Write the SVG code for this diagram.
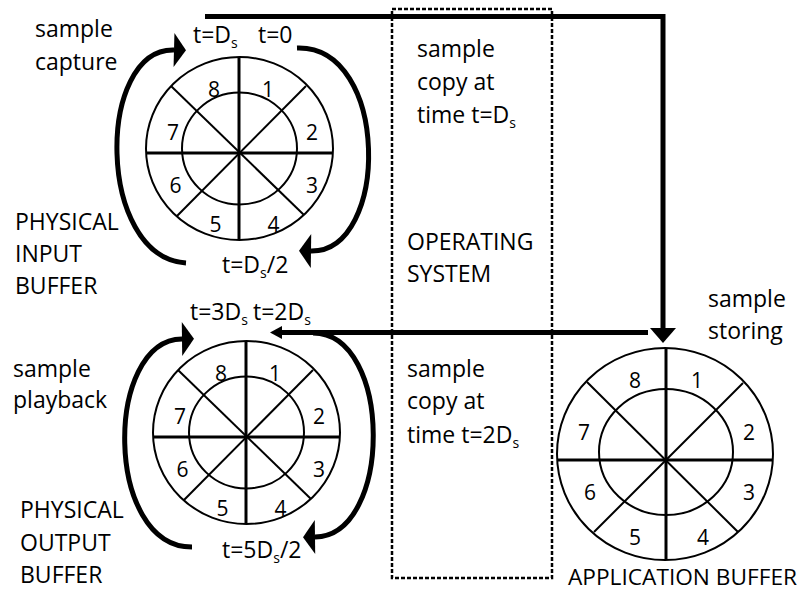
<svg xmlns="http://www.w3.org/2000/svg" width="803" height="592" viewBox="0 0 803 592">
<style>
  text { font-family: "Open Sans", "Liberation Sans", sans-serif; fill: #000; }
  .lbl { font-size: 23px; }
  .num { font-size: 21px; text-anchor: middle; }
  .sub { font-size: 14px; }
  .ring { fill: none; stroke: #000; stroke-width: 2; }
  .spoke { stroke: #000; stroke-width: 3; }
  .diag { stroke: #000; stroke-width: 2; }
  .arc { fill: none; stroke: #000; stroke-width: 5; marker-end: url(#curvehead); }
  .thick { fill: none; stroke: #000; stroke-width: 5; stroke-linejoin: miter; }
  .dash { fill: none; stroke: #000; stroke-width: 2.5; stroke-dasharray: 4 2; }
</style>
<defs>
  <marker id="curvehead" markerUnits="userSpaceOnUse" markerWidth="14" markerHeight="34" refX="0" refY="17" orient="auto" overflow="visible">
    <path d="M0,0 L12,17 L0,34 z" fill="#000"/>
  </marker>
  <marker id="downhead" markerUnits="userSpaceOnUse" markerWidth="16" markerHeight="26" refX="0" refY="13" orient="auto" overflow="visible">
    <path d="M0,0 L15,13 L0,26 z" fill="#000"/>
  </marker>
  <marker id="lefthead" markerUnits="userSpaceOnUse" markerWidth="13" markerHeight="13" refX="0" refY="6.5" orient="auto" overflow="visible">
    <path d="M0,0 L12,6.5 L0,13 z" fill="#000"/>
  </marker>
  <g id="wheel">
    <ellipse class="ring" cx="239.5" cy="148.5" rx="93.5" ry="91.5"/>
    <ellipse class="ring" cx="239.5" cy="148.5" rx="57.5" ry="56"/>
    <line class="spoke" x1="239" y1="57" x2="239" y2="240"/>
    <line class="spoke" x1="146" y1="153" x2="333" y2="153"/>
    <line class="diag" x1="171" y1="86" x2="304" y2="215"/>
    <line class="diag" x1="306" y1="86" x2="177" y2="216"/>
    <text class="num" x="214" y="96.5">8</text>
    <text class="num" x="268" y="96.5">1</text>
    <text class="num" x="312" y="140">2</text>
    <text class="num" x="312" y="193">3</text>
    <text class="num" x="273.5" y="231.5">4</text>
    <text class="num" x="215.5" y="231.5">5</text>
    <text class="num" x="175.5" y="193">6</text>
    <text class="num" x="173" y="140">7</text>
  </g>
</defs>

<g id="os-box">
  <rect class="dash" x="392" y="9" width="160" height="569"/>
  <text class="lbl" x="407" y="250">OPERATING</text>
  <text class="lbl" x="407" y="282">SYSTEM</text>
</g>

<g id="input-buffer">
  <use href="#wheel"/>
  <text class="lbl" x="35" y="37">sample</text>
  <text class="lbl" x="35" y="70">capture</text>
  <text class="lbl" x="15" y="230">PHYSICAL</text>
  <text class="lbl" x="15" y="262">INPUT</text>
  <text class="lbl" x="15" y="294">BUFFER</text>
  <text class="lbl" x="193" y="43">t=D<tspan class="sub" dy="5">s</tspan></text>
  <text class="lbl" x="258" y="43">t=0</text>
  <text class="lbl" x="222" y="273">t=D<tspan class="sub" dy="5">s</tspan><tspan dy="-5">/2</tspan></text>
</g>

<g id="output-buffer">
  <use href="#wheel" transform="translate(7,284)"/>
  <text class="lbl" x="13" y="377">sample</text>
  <text class="lbl" x="13" y="408">playback</text>
  <text class="lbl" x="20" y="518">PHYSICAL</text>
  <text class="lbl" x="20" y="551">OUTPUT</text>
  <text class="lbl" x="20" y="583">BUFFER</text>
  <text class="lbl" x="190" y="320">t=3D<tspan class="sub" dy="5">s</tspan></text>
  <text class="lbl" x="253" y="320">t=2D<tspan class="sub" dy="5">s</tspan></text>
  <text class="lbl" x="222" y="558">t=5D<tspan class="sub" dy="5">s</tspan><tspan dy="-5">/2</tspan></text>
</g>

<g id="application-buffer">
  <ellipse class="ring" cx="665" cy="454" rx="108" ry="106"/>
  <ellipse class="ring" cx="666" cy="452" rx="67" ry="63"/>
  <line class="spoke" x1="666" y1="348" x2="666" y2="560"/>
  <line class="spoke" x1="557" y1="460" x2="773" y2="460"/>
  <line class="diag" x1="587" y1="382" x2="738" y2="532"/>
  <line class="diag" x1="743" y1="383" x2="594" y2="532"/>
  <text class="num" x="635" y="388">8</text>
  <text class="num" x="697" y="388">1</text>
  <text class="num" x="749" y="440">2</text>
  <text class="num" x="749" y="500">3</text>
  <text class="num" x="703" y="545">4</text>
  <text class="num" x="635" y="545">5</text>
  <text class="num" x="590" y="500">6</text>
  <text class="num" x="584" y="440">7</text>
  <text class="lbl" x="708" y="307">sample</text>
  <text class="lbl" x="708" y="339">storing</text>
  <text x="568" y="585" font-size="22" textLength="229" lengthAdjust="spacingAndGlyphs">APPLICATION BUFFER</text>
</g>

<g id="os-texts">
  <text class="lbl" x="417" y="57">sample</text>
  <text class="lbl" x="417" y="90">copy at</text>
  <text class="lbl" x="417" y="123">time t=D<tspan class="sub" dy="5">s</tspan></text>
  <text class="lbl" x="407" y="377">sample</text>
  <text class="lbl" x="407" y="409">copy at</text>
  <text class="lbl" x="407" y="443">time t=2D<tspan class="sub" dy="5">s</tspan></text>
</g>

<g id="connectors">
  <path class="arc" d="M186,263 C96,257 96,48 174,50"/>
  <path class="arc" d="M297,48 C390,45 390,252 311,251"/>
  <path class="arc" d="M192,547 C104,547 104,340 182,339"/>
  <path class="arc" d="M313,333 C393,333 393,536 315,537"/>
  <path class="thick" d="M205,16.5 H663 V328" marker-end="url(#downhead)"/>
  <path class="thick" d="M648,332.5 H282" marker-end="url(#lefthead)"/>
</g>
</svg>
